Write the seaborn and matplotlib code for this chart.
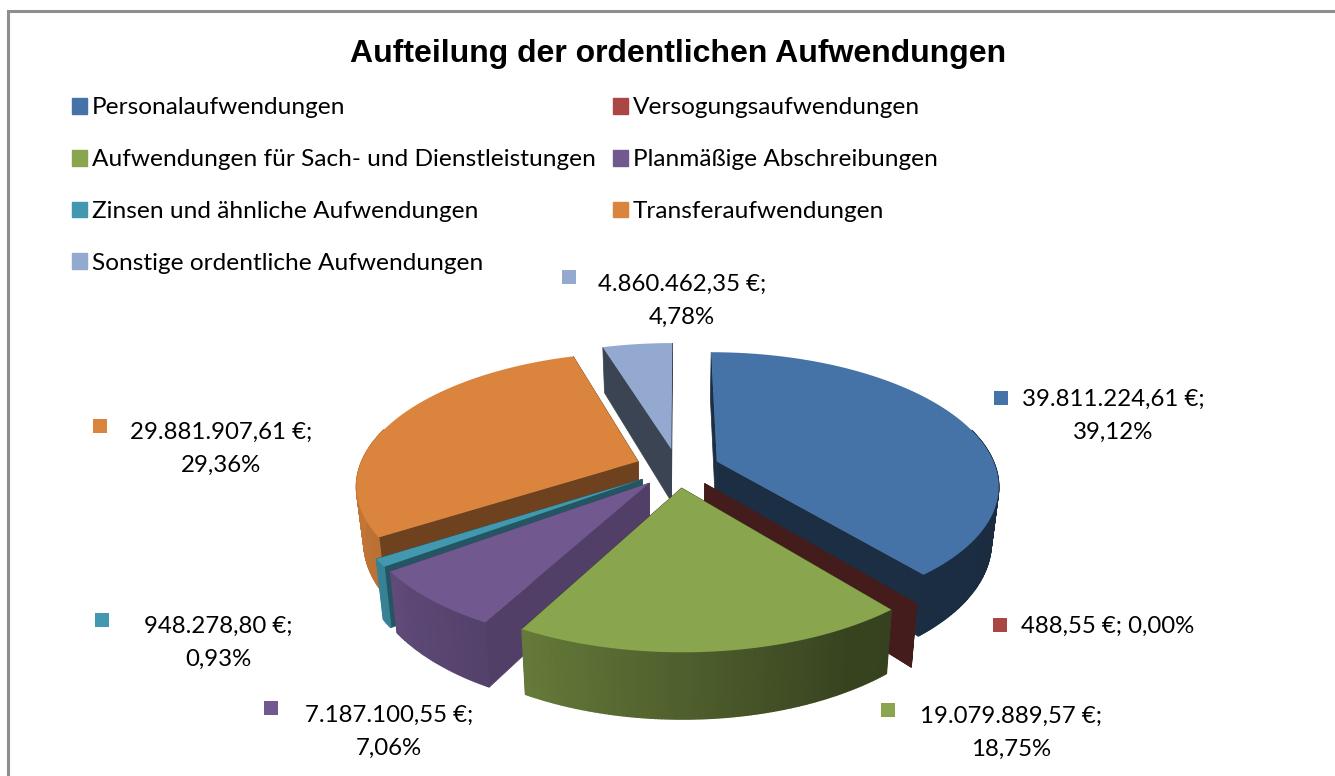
import matplotlib
matplotlib.use("Agg")
import matplotlib.pyplot as plt
from matplotlib.patches import Patch
import numpy as np
import seaborn as sns

# Daten
kategorien = [
    "Personalaufwendungen",
    "Versogungsaufwendungen",
    "Aufwendungen für Sach- und Dienstleistungen",
    "Planmäßige Abschreibungen",
    "Zinsen und ähnliche Aufwendungen",
    "Transferaufwendungen",
    "Sonstige ordentliche Aufwendungen",
]
werte = [39811224.61, 488.55, 19079889.57, 7187100.55, 948278.80, 29881907.61, 4860462.35]
farben = ["#4572A7", "#AA4643", "#89A54E", "#71588F", "#4198AF", "#DB843D", "#93A9CF"]
titel = "Aufteilung der ordentlichen Aufwendungen"

# Layout der Beschriftungen (Pixel): Textmitte x, y der ersten Zeile, Marke x, y
label_pos = [
    (1113, 399.5, 1001, 398),
    (1108, 626, 1000, 625),
    (1011, 716.5, 888, 710),
    (389, 715.5, 271, 708),
    (218, 626.5, 102, 620),
    (221, 432.5, 100, 426),
    (682, 284.5, 569, 277),
]

# Geometrie der 3D-Torte
CX, F = 677.5, 279.0
Y_INF, A, D = -309.0, 777.0, 6.0
X_PERSP = 1.02
HOEHE = 54.0
EXPLODE = 0.151
BODEN_X = 0.977

# Seitenhelligkeit je Winkel und Helligkeit der Schnittflächen
SHADE_W = [0, 90, 150, 208, 235, 270, 360]
SHADE_F = [0.38, 0.38, 0.40, 0.74, 0.85, 0.90, 0.90]
radial_shade = [0.40, 0.40, 0.40, 0.72, 0.56, 0.50, 0.40]
MANTEL_VON, MANTEL_BIS = 75, 285


def project(x, y, unten=False):
    w = 1 - np.asarray(y) / D
    sx = CX + F * np.asarray(x) / w ** X_PERSP
    sy = Y_INF + A / w
    if unten:
        sx = CX + (sx - CX) * BODEN_X
        sy = sy + HOEHE / w
    return sx, sy


def abdunkeln(farbe, faktor):
    return tuple(np.array(matplotlib.colors.to_rgb(farbe)) * faktor)


def draw_slice(ax, start, ende, farbe, rad_faktor):
    mitte = np.radians((start + ende) / 2)
    ox, oy = EXPLODE * np.sin(mitte), -EXPLODE * np.cos(mitte)
    winkel = np.radians(np.linspace(start, ende, max(int(ende - start) * 2, 2)))
    rx, ry = ox + np.sin(winkel), oy - np.cos(winkel)

    # Schnittflächen
    dunkel = abdunkeln(farbe, rad_faktor)
    for i in (0, -1):
        xs, ys = [ox, rx[i]], [oy, ry[i]]
        tx, ty = project(xs, ys)
        bx, by = project(xs, ys, unten=True)
        ax.fill([tx[0], tx[1], bx[1], bx[0]], [ty[0], ty[1], by[1], by[0]],
                color=dunkel, lw=0.5, zorder=2)

    # Mantel als schmale Streifen für den Verlauf, nur die sichtbare Vorderseite
    tx, ty = project(rx, ry)
    bx, by = project(rx, ry, unten=True)
    grad = np.degrees(winkel)
    for i in range(len(winkel) - 1):
        gm = (grad[i] + grad[i + 1]) / 2
        if gm < MANTEL_VON or gm > MANTEL_BIS:
            continue
        f = np.interp(gm, SHADE_W, SHADE_F)
        ax.fill([tx[i], tx[i + 1], bx[i + 1], bx[i]], [ty[i], ty[i + 1], by[i + 1], by[i]],
                color=abdunkeln(farbe, f), lw=1.0, zorder=2)

    # Deckel
    cx, cy = project([ox], [oy])
    ax.fill(np.r_[cx, tx], np.r_[cy, ty], color=farbe, lw=0, zorder=2)


def label_text(wert, anteil, einzeilig):
    betrag = f"{wert:,.2f}".replace(",", "X").replace(".", ",").replace("X", ".")
    pct = f"{anteil:.2f}".replace(".", ",")
    trenner = " " if einzeilig else "\n"
    return f"{betrag} €;{trenner}{pct}%"


sns.set_theme(style="white")
plt.rcParams["font.family"] = ["Lato", "DejaVu Sans"]
palette = sns.color_palette(farben)

fig = plt.figure(figsize=(13.35, 7.76), dpi=100)
ax = fig.add_axes([0, 0, 1, 1])
ax.set_xlim(0, 1335)
ax.set_ylim(776, 0)
ax.axis("off")

# Diagrammrahmen
ax.plot([1335, 8, 8], [11, 11, 776], color="#8e8e8e", lw=2.2, zorder=1, solid_joinstyle="miter")

ax.text(678, 54, titel, ha="center", va="center", fontsize=23, fontweight="bold",
        family="Liberation Sans", color="black")

# Segmente von hinten nach vorne zeichnen
anteile = np.array(werte) / np.sum(werte)
grenzen = np.r_[0, np.cumsum(anteile) * 360]
for i in [6, 0, 5, 1, 4, 3, 2]:
    draw_slice(ax, grenzen[i], grenzen[i + 1], palette[i], radial_shade[i])

# Datenbeschriftungen
for i, (tx, ty, mx, my) in enumerate(label_pos):
    einzeilig = anteile[i] < 0.001
    ax.scatter([mx], [my], marker="s", s=115, color=palette[i], linewidths=0, zorder=3)
    ax.text(tx, ty if einzeilig else ty + 16.5, label_text(werte[i], anteile[i] * 100, einzeilig),
            ha="center", va="center", fontsize=17.3,
            color="black", linespacing=1.7, zorder=3)

# Legende, zweispaltig zeilenweise gefüllt
reihenfolge = [0, 2, 4, 6, 1, 3, 5]
handles = [Patch(color=palette[i], label=kategorien[i]) for i in reihenfolge]
ax.legend(handles=handles, ncol=2, frameon=False, loc="upper left",
          bbox_to_anchor=(72, 97.5), bbox_transform=ax.transData, fontsize=17.6,
          handlelength=0.62, handleheight=0.62, handletextpad=0.2,
          labelspacing=1.26, columnspacing=0.7, borderpad=0, borderaxespad=0,
          labelcolor="black")

fig.savefig("out.png", dpi=100)
plt.close(fig)
